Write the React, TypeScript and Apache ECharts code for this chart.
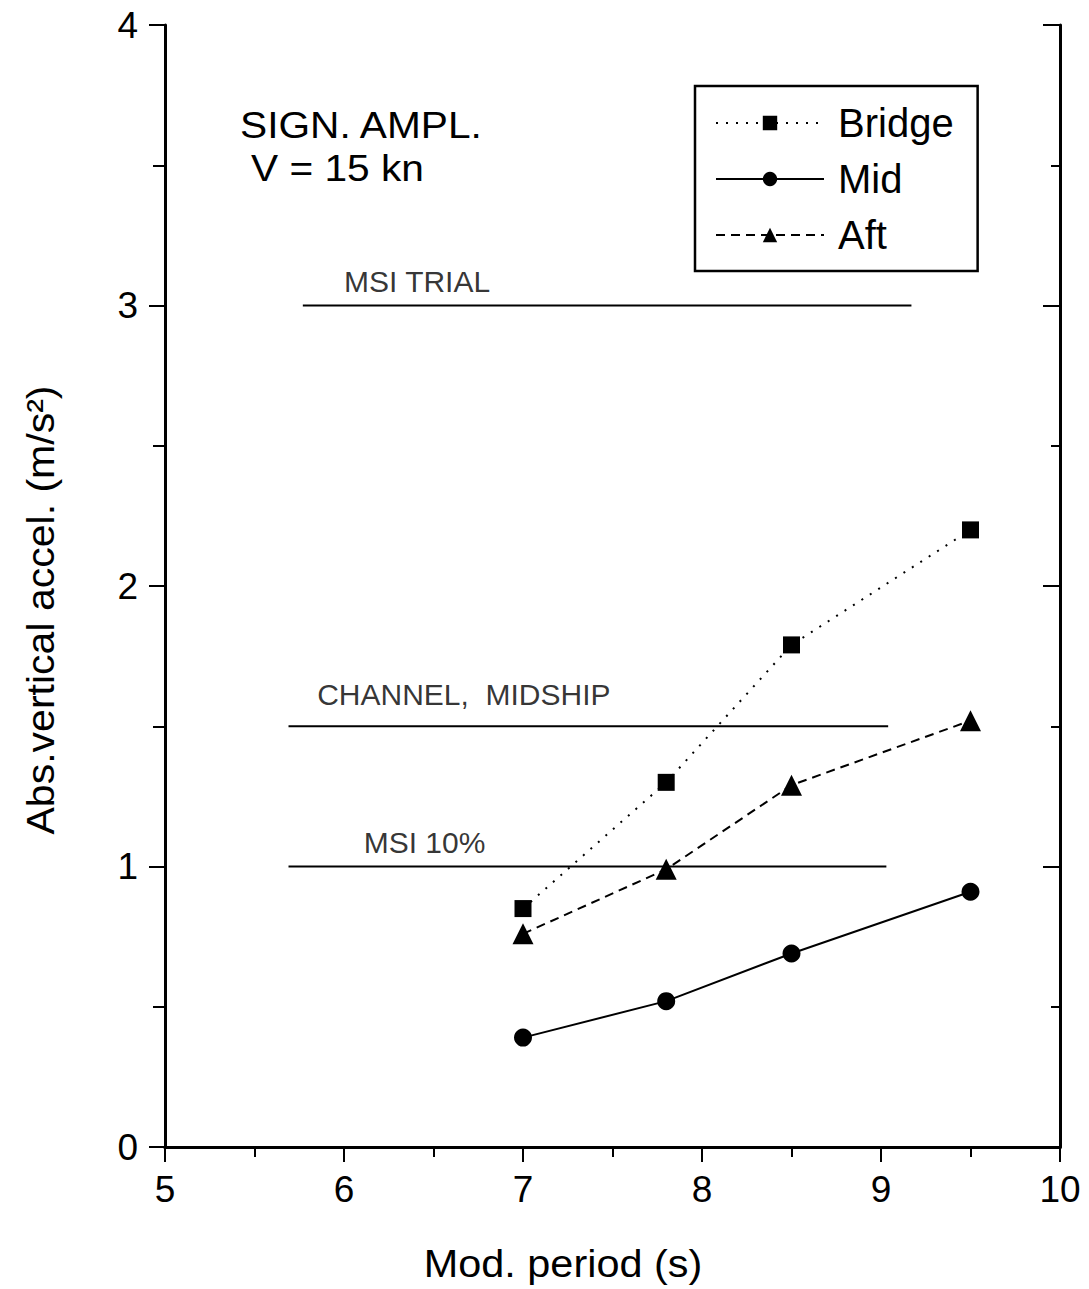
import React, { useEffect, useRef } from "react";
import * as echarts from "echarts";

const periods = [7, 7.8, 8.5, 9.5];
const bridge = [0.85, 1.3, 1.79, 2.2];
const mid = [0.39, 0.52, 0.69, 0.91];
const aft = [0.76, 0.99, 1.29, 1.52];

const refNames = ["MSI TRIAL", "CHANNEL,  MIDSHIP", "MSI 10%"];
const refLevels = [3, 1.5, 1];
const refStarts = [5.77, 5.69, 5.69];
const refEnds = [9.17, 9.04, 9.03];
const refLabelX = [6.0, 5.85, 6.11];

const xTicks = [5, 6, 7, 8, 9, 10];
const yTicks = [0, 1, 2, 3, 4];

// style only: vertical label offsets (px) above each reference line
const refLabelDy = [-24, -32, -24];

const FONT = "Liberation Sans, Arial, sans-serif";

export default function App() {
  const ref = useRef<HTMLDivElement>(null);
  useEffect(() => {
    const chart = echarts.init(ref.current!, null, { renderer: "svg" });
    const axisLine = { show: true, lineStyle: { color: "#000", width: 3 } };
    const labelStyle = { color: "#000", fontSize: 37, fontFamily: FONT };
    const tickStyle = { color: "#000", width: 2 };
    const pair = (xs: number[], ys: number[]) => xs.map((x, i) => [x, ys[i]]);

    const refSeries: any[] = [];
    refNames.forEach((name, i) => {
      refSeries.push({
        type: "line",
        name: name + "_line",
        data: [
          [refStarts[i], refLevels[i]],
          [refEnds[i], refLevels[i]],
        ],
        symbol: "none",
        lineStyle: { color: "#000", width: 2 },
        silent: true,
      });
      refSeries.push({
        type: "scatter",
        name: name + "_label",
        data: [[refLabelX[i], refLevels[i]]],
        symbolSize: 0,
        silent: true,
        label: {
          show: true,
          formatter: name,
          position: [0, refLabelDy[i]],
          align: "left",
          verticalAlign: "middle",
          color: "#000",
          fontSize: 30,
          fontFamily: FONT,
        },
      });
    });

    chart.setOption({
      animation: false,
      backgroundColor: "#fff",
      grid: { left: 165, right: 29, top: 25, bottom: 142 },
      xAxis: [
        {
          type: "value",
          min: 5,
          max: 10,
          interval: 1,
          position: "bottom",
          axisLine,
          axisTick: { show: true, inside: false, length: 15, lineStyle: tickStyle },
          minorTick: { show: true, splitNumber: 2, length: 10, lineStyle: tickStyle },
          splitLine: { show: false },
          axisLabel: { ...labelStyle, margin: 24, formatter: (v: number) => (xTicks.includes(v) ? String(v) : "") },
        },
        {
          type: "value",
          min: 5,
          max: 10,
          interval: 1,
          position: "top",
          axisLine,
          axisTick: { show: true, inside: true, length: 15, lineStyle: tickStyle },
          minorTick: { show: true, splitNumber: 2, length: 8, lineStyle: tickStyle },
          splitLine: { show: false },
          axisLabel: { show: false },
        },
      ],
      yAxis: [
        {
          type: "value",
          min: 0,
          max: 4,
          interval: 1,
          position: "left",
          axisLine,
          axisTick: { show: true, inside: false, length: 16, lineStyle: tickStyle },
          minorTick: { show: true, splitNumber: 2, length: 12, lineStyle: tickStyle },
          splitLine: { show: false },
          axisLabel: { ...labelStyle, margin: 27, formatter: (v: number) => (yTicks.includes(v) ? String(v) : "") },
        },
        {
          type: "value",
          min: 0,
          max: 4,
          interval: 1,
          position: "right",
          axisLine,
          axisTick: { show: true, inside: true, length: 17, lineStyle: tickStyle },
          minorTick: { show: true, splitNumber: 2, length: 9, lineStyle: tickStyle },
          splitLine: { show: false },
          axisLabel: { show: false },
        },
      ],
      legend: {
        data: ["Bridge", "Mid", "Aft"],
        orient: "vertical",
        left: 695,
        top: 86,
        padding: [17, 24, 16, 20],
        itemGap: 16,
        itemWidth: 108,
        itemHeight: 18,
        borderColor: "#000",
        borderWidth: 2.5,
        textStyle: { color: "#000", fontSize: 40, lineHeight: 40, fontFamily: FONT, padding: [0, 0, 0, 9] },
      },
      graphic: [
        {
          type: "text",
          x: 240,
          y: 125,
          scaleX: 1.13,
          style: { text: "SIGN. AMPL.", fill: "#000", fontSize: 36, fontFamily: FONT, textAlign: "left", textVerticalAlign: "middle" },
        },
        {
          type: "text",
          x: 251,
          y: 168,
          scaleX: 1.13,
          style: { text: "V = 15 kn", fill: "#000", fontSize: 36, fontFamily: FONT, textAlign: "left", textVerticalAlign: "middle" },
        },
        {
          type: "text",
          x: 563,
          y: 1264,
          scaleX: 1.09,
          style: {
            text: "Mod. period (s)",
            fill: "#000",
            fontSize: 38,
            fontFamily: FONT,
            textAlign: "center",
            textVerticalAlign: "middle",
          },
        },
        {
          type: "text",
          x: 41,
          y: 610,
          rotation: Math.PI / 2,
          scaleX: 1.08,
          style: {
            text: "Abs.vertical accel. (m/s²)",
            fill: "#000",
            fontSize: 38,
            fontFamily: FONT,
            textAlign: "center",
            textVerticalAlign: "middle",
          },
        },
      ],
      series: [
        ...refSeries,
        {
          type: "line",
          name: "Bridge",
          data: pair(periods, bridge),
          symbol: "rect",
          symbolSize: 17,
          itemStyle: { color: "#000" },
          lineStyle: { color: "#000", width: 2, type: [2, 8] },
        },
        {
          type: "line",
          name: "Mid",
          data: pair(periods, mid),
          symbol: "circle",
          symbolSize: 18,
          itemStyle: { color: "#000" },
          lineStyle: { color: "#000", width: 2, type: "solid" },
        },
        {
          type: "line",
          name: "Aft",
          data: pair(periods, aft),
          symbol: "triangle",
          symbolSize: 21,
          itemStyle: { color: "#000" },
          lineStyle: { color: "#000", width: 2, type: [9, 6] },
        },
      ],
    });
    return () => chart.dispose();
  }, []);
  return (
    <div
      ref={ref}
      style={{ position: "fixed", left: 0, top: 0, width: 1089, height: 1289, background: "#fff" }}
    />
  );
}
